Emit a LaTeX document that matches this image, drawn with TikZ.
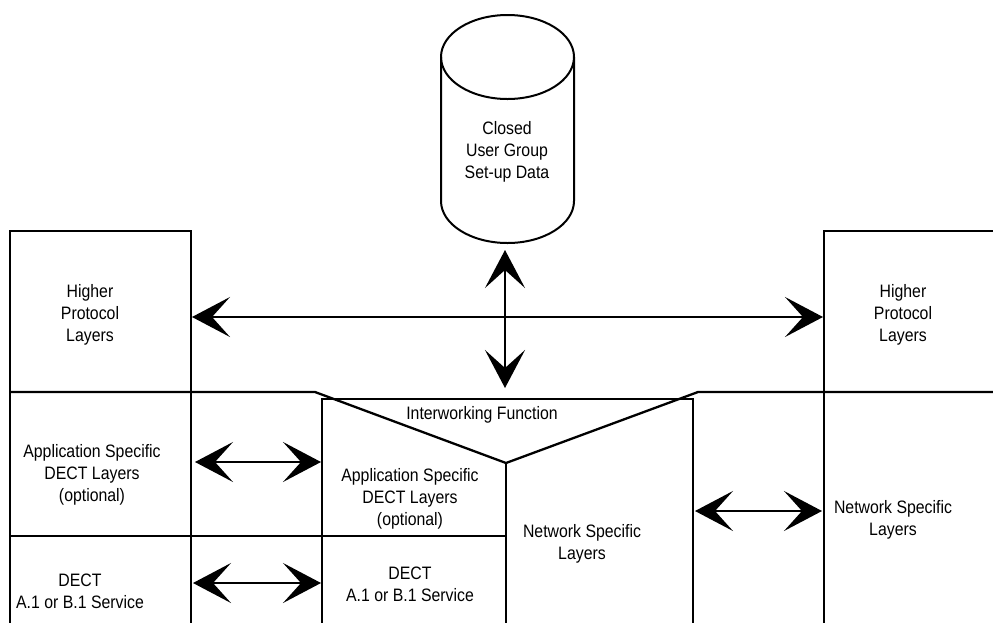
\documentclass[tikz,border=0pt]{standalone}
\usepackage{fontspec}
\newfontfamily\lblfont[FakeStretch=0.88]{Liberation Sans}
\usetikzlibrary{arrows.meta}

\begin{document}
\begin{tikzpicture}[x=1pt, y=-1pt,
  wall/.style={line width=2.3pt},
  lbl/.style={align=center, font=\lblfont\fontsize{18}{22}\selectfont},
  dbl/.style={line width=2.2pt,
    {Stealth[length=38pt, width=40pt, inset=18pt]}-{Stealth[length=38pt, width=40pt, inset=18pt]}}]

\useasboundingbox (0,0) rectangle (993,622);

% database cylinder
\begin{scope}[line width=2pt]
  \draw (507.5,57) ellipse [x radius=66.5, y radius=42];
  \draw (441,57) -- (441,201) arc [start angle=180, end angle=0, x radius=66.5, y radius=42] -- (574,57);
\end{scope}

% columns and layer boundaries
\begin{scope}[wall]
  \draw (10,630) -- (10,231) -- (191,231) -- (191,630);
  \draw (1000,231) -- (824,231) -- (824,630);
  \draw (10,392) -- (315,392) -- (506,463) -- (698,392) -- (1000,392);
  \draw (322,630) -- (322,399) -- (693,399) -- (693,630);
  \draw (506,463) -- (506,630);
  \draw (10,536) -- (506,536);
\end{scope}

\begin{scope}[lbl]
  \node (cug)    at (507,152) {Closed\\User Group\\Set-up Data};
  \node (hpl-l)  at (90,315)  {Higher\\Protocol\\Layers};
  \node (hpl-r)  at (903,315) {Higher\\Protocol\\Layers};
  \node (iwf)    at (482,415) {Interworking Function};
  \node (asl-l)  at (92,475)  {Application Specific\\DECT Layers\\(optional)};
  \node (asl-c)  at (410,499) {Application Specific\\DECT Layers\\(optional)};
  \node (dect-l) at (80,591)  {DECT\\A.1 or B.1 Service};
  \node (dect-c) at (410,584) {DECT\\A.1 or B.1 Service};
  \node (nsl-c)  at (582,544) {Network Specific\\Layers};
  \node (nsl-r)  at (893,520) {Network Specific\\Layers};
\end{scope}

% arrow ends on the walls
\coordinate (hp-l)    at (192,317);
\coordinate (hp-r)    at (823,317);
\coordinate (db-bot)  at (505,250);
\coordinate (iwf-top) at (505,388);
\coordinate (as-l)    at (195,462);
\coordinate (as-c)    at (321,462);
\coordinate (dc-l)    at (193,583);
\coordinate (dc-c)    at (321,583);
\coordinate (ns-c)    at (695,511);
\coordinate (ns-r)    at (822,511);

\begin{scope}[dbl]
  \draw (hp-l) -- (hp-r);
  \draw (db-bot) -- (iwf-top);
  \draw (as-l) -- (as-c);
  \draw (dc-l) -- (dc-c);
  \draw (ns-c) -- (ns-r);
\end{scope}

\end{tikzpicture}
\end{document}
